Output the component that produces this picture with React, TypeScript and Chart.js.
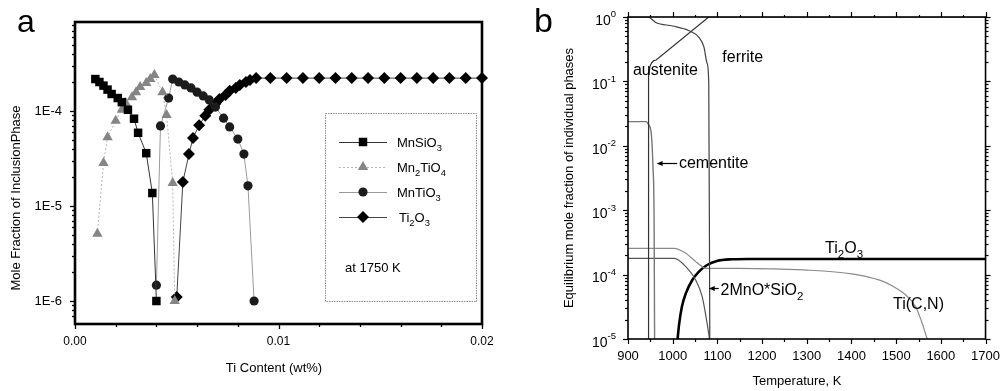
import React, { useEffect, useRef } from 'react';
import { Chart, registerables } from 'chart.js';

Chart.register(...registerables);

const FONT = '"Liberation Sans", Arial, Helvetica, sans-serif';
Chart.defaults.font.family = FONT;
Chart.defaults.color = '#000';

// ---------------- Panel a data ----------------
const aSeriesLabels = ['MnSiO_3', 'Mn_2TiO_4', 'MnTiO_3', 'Ti_2O_3'];
const mnsio3X = [0.0010, 0.0012, 0.0014, 0.0016, 0.0018, 0.0021, 0.0023, 0.0026, 0.0029, 0.0031, 0.0035, 0.0038, 0.0040];
const mnsio3Y = [2.17e-4, 2.02e-4, 1.85e-4, 1.68e-4, 1.51e-4, 1.37e-4, 1.24e-4, 1.03e-4, 8.3e-5, 5.9e-5, 3.6e-5, 1.37e-5, 1.0e-6];
const mn2tio4X = [0.0011, 0.0014, 0.0016, 0.0020, 0.0023, 0.0025, 0.0028, 0.0030, 0.0032, 0.0035, 0.0037, 0.0039, 0.0043, 0.0045, 0.0048, 0.0049];
const mn2tio4Y = [5.1e-6, 2.84e-5, 5.3e-5, 7.9e-5, 1.03e-4, 1.21e-4, 1.40e-4, 1.58e-4, 1.79e-4, 1.97e-4, 2.17e-4, 2.39e-4, 1.58e-4, 9.1e-5, 1.75e-5, 1.0e-6];
const mntio3X = [0.0040, 0.0042, 0.0046, 0.0048, 0.0051, 0.0054, 0.0057, 0.0060, 0.0063, 0.0066, 0.0069, 0.0073, 0.0076, 0.0080, 0.0083, 0.0085, 0.0088];
const mntio3Y = [1.47e-6, 6.96e-5, 1.37e-4, 2.17e-4, 2.02e-4, 1.88e-4, 1.75e-4, 1.58e-4, 1.44e-4, 1.31e-4, 1.10e-4, 8.4e-5, 6.8e-5, 5.07e-5, 3.52e-5, 1.63e-5, 1.0e-6];
const ti2o3X = [0.0050, 0.0053, 0.0056, 0.0058, 0.0061, 0.0064, 0.0066, 0.0069, 0.0071, 0.0074, 0.0076, 0.0079, 0.0081, 0.0084, 0.0086, 0.0089,
  0.0096, 0.0104, 0.0112, 0.0120, 0.0128, 0.0136, 0.0144, 0.0152, 0.0160, 0.0168, 0.0176, 0.0184, 0.0192, 0.0200];
const ti2o3Y = [1.1e-6, 1.79e-5, 3.52e-5, 5.2e-5, 7.1e-5, 8.9e-5, 1.03e-4, 1.19e-4, 1.34e-4, 1.47e-4, 1.63e-4, 1.75e-4, 1.88e-4, 2.02e-4, 2.12e-4, 2.22e-4,
  2.22e-4, 2.22e-4, 2.22e-4, 2.22e-4, 2.22e-4, 2.22e-4, 2.22e-4, 2.22e-4, 2.22e-4, 2.22e-4, 2.22e-4, 2.22e-4, 2.22e-4, 2.22e-4];
const aXRange = [0, 0.02];
const aYRange = [5.73e-7, 8.65e-4];
const aXTickValues = [0, 0.01, 0.02];
const aXTickLabels = ['0.00', '0.01', '0.02'];
const aYTickValues = [1e-6, 1e-5, 1e-4];
const aYTickLabels = ['1E-6', '1E-5', '1E-4'];
const aXTitle = 'Ti Content (wt%)';
const aYTitle = 'Mole Fraction of InclusionPhase';
const aNote = 'at 1750 K';

// ---------------- Panel b data ----------------
const ferriteT = [900, 944.7, 963, 1000, 1036.6, 1058.7, 1069.7, 1077, 1080.7, 1083];
const ferriteV = [1, 1, 0.815, 0.725, 0.613, 0.484, 0.346, 0.191, 0.094, 1e-5];
const austeniteT = [945, 945.5, 946.5, 949, 953, 958, 963, 1080.7, 1700];
const austeniteV = [1e-5, 0.05, 0.12, 0.17, 0.195, 0.21, 0.215, 1, 1];
const cementiteT = [900, 941, 945, 952, 955.8, 958.4, 959.5];
const cementiteV = [0.0237, 0.0237, 0.0218, 0.0156, 0.0048, 7e-4, 1e-5];
const mnsio2T = [900, 1003.6, 1029.4, 1051.4, 1066, 1077, 1082.3];
const mnsio2V = [1.79e-4, 1.79e-4, 1.33e-4, 8.24e-5, 4.54e-5, 1.75e-5, 1e-5];
const ticnT = [900, 1003.6, 1029.4, 1051.4, 1066, 1073.5, 1147, 1294, 1404, 1463, 1492, 1521.5, 1543.6, 1558.3, 1569.3];
const ticnV = [2.56e-4, 2.56e-4, 2.14e-4, 1.59e-4, 1.33e-4, 1.25e-4, 1.25e-4, 1.18e-4, 1.02e-4, 8.2e-5, 6.65e-5, 4.82e-5, 3.17e-5, 1.75e-5, 1e-5];
const bti2o3T = [1010.9, 1014.6, 1020.6, 1029.4, 1043.9, 1058.7, 1077, 1099, 1132, 1169, 1700];
const bti2o3V = [1e-5, 1.75e-5, 3.17e-5, 5.12e-5, 8.24e-5, 1.11e-4, 1.41e-4, 1.63e-4, 1.73e-4, 1.75e-4, 1.75e-4];
const bXRange = [900, 1700];
const bYRange = [1e-5, 1];
const bXTickValues = [900, 1000, 1100, 1200, 1300, 1400, 1500, 1600, 1700];
const bXTickLabels = ['900', '1000', '1100', '1200', '1300', '1400', '1500', '1600', '1700'];
const bYTickValues = [1, 1e-1, 1e-2, 1e-3, 1e-4, 1e-5];
const bYTickLabels = ['10^0', '10^{-1}', '10^{-2}', '10^{-3}', '10^{-4}', '10^{-5}'];
const bXTitle = 'Temperature, K';
const bYTitle = 'Equilibrium mole fraction of individual phases';

// annotation anchors in data units (T, value)
const bNotes = [
  { text: 'austenite', T: 911, v: 0.126 },
  { text: 'ferrite', T: 1111, v: 0.2 },
  { text: 'cementite', T: 1014, v: 4.5e-3, arrow: [1010, 964, 5.4e-3] },
  { text: 'Ti_2O_3', T: 1341, v: 2.16e-4 },
  { text: '2MnO*SiO_2', T: 1107, v: 4.8e-5, arrow: [1103, 1080.7, 6.2e-5] },
  { text: 'Ti(C,N)', T: 1493, v: 2.92e-5 },
];

const zip = (xs: number[], ys: number[]) => xs.map((x, i) => ({ x, y: ys[i] }));

// ---------------- helpers ----------------
function parseRich(text: string) {
  const parts: { t: string; k: string }[] = [];
  let i = 0;
  while (i < text.length) {
    const c = text[i];
    if (c === '_' || c === '^') {
      let s = '';
      if (text[i + 1] === '{') {
        const k = text.indexOf('}', i + 1);
        s = text.slice(i + 2, k);
        i = k + 1;
      } else {
        s = text[i + 1];
        i += 2;
      }
      parts.push({ t: s, k: c === '_' ? 'sub' : 'sup' });
    } else {
      let j = i;
      while (j < text.length && text[j] !== '_' && text[j] !== '^') j++;
      parts.push({ t: text.slice(i, j), k: 'n' });
      i = j;
    }
  }
  return parts;
}

function drawRich(ctx: CanvasRenderingContext2D, text: string, x: number, y: number, size: number, align = 'left', subScale = 0.72) {
  const parts = parseRich(text);
  const small = size * subScale;
  const fN = `${size}px ${FONT}`;
  const fS = `${small}px ${FONT}`;
  let total = 0;
  const widths = parts.map((p) => {
    ctx.font = p.k === 'n' ? fN : fS;
    const w = ctx.measureText(p.t).width;
    total += w;
    return w;
  });
  let cx = align === 'right' ? x - total : align === 'center' ? x - total / 2 : x;
  ctx.textAlign = 'left';
  parts.forEach((p, i) => {
    ctx.font = p.k === 'n' ? fN : fS;
    const dy = p.k === 'sub' ? size * 0.3 : p.k === 'sup' ? -size * 0.45 : 0;
    ctx.fillText(p.t, cx, y + dy);
    cx += widths[i];
  });
}

function drawMarker(ctx: CanvasRenderingContext2D, style: string, x: number, y: number, r: number, fill: string) {
  ctx.fillStyle = fill;
  ctx.beginPath();
  if (style === 'rect') {
    const s = r * Math.SQRT1_2;
    ctx.rect(x - s, y - s, 2 * s, 2 * s);
  } else if (style === 'triangle') {
    for (let k = 0; k < 3; k++) {
      const a = (k * 2 * Math.PI) / 3;
      const px = x + Math.sin(a) * r;
      const py = y - Math.cos(a) * r;
      if (k === 0) ctx.moveTo(px, py);
      else ctx.lineTo(px, py);
    }
    ctx.closePath();
  } else if (style === 'circle') {
    ctx.arc(x, y, r, 0, Math.PI * 2);
  } else {
    ctx.moveTo(x - r, y);
    ctx.lineTo(x, y - r);
    ctx.lineTo(x + r, y);
    ctx.lineTo(x, y + r);
    ctx.closePath();
  }
  ctx.fill();
}

const logClass = (v: number) => {
  const e = Math.floor(Math.log10(v) + 1e-9);
  const m = v / Math.pow(10, e);
  const r = Math.round(m);
  if (Math.abs(m - r) > 1e-6) return null;
  return r === 1 ? 'major' : 'minor';
};
const linClass = (step: number, majorStep: number) => (v: number) => {
  const k = v / majorStep;
  if (Math.abs(k - Math.round(k)) < 1e-6) return 'major';
  const s = v / step;
  if (Math.abs(s - Math.round(s)) < 1e-6) return 'minor';
  return null;
};

type TickCfg = Record<string, { major: number; minor: number; cls: (v: number) => string | null }>;

function makeFramePlugin(cfg: TickCfg, frameWidth: number, tickWidth: number) {
  return {
    id: 'frameTicks',
    afterDraw(chart: any) {
      const ctx = chart.ctx as CanvasRenderingContext2D;
      const ca = chart.chartArea;
      ctx.save();
      ctx.strokeStyle = '#000';
      ctx.lineWidth = tickWidth;
      for (const id of Object.keys(cfg)) {
        const s = chart.scales[id];
        if (!s) continue;
        const c = cfg[id];
        for (const t of s.ticks) {
          const kind = c.cls(t.value);
          if (!kind) continue;
          const len = kind === 'major' ? c.major : c.minor;
          const p = Math.round(s.getPixelForValue(t.value)) + 0.5;
          ctx.beginPath();
          if (s.position === 'bottom') { ctx.moveTo(p, ca.bottom); ctx.lineTo(p, ca.bottom + len); }
          else if (s.position === 'top') { ctx.moveTo(p, ca.top); ctx.lineTo(p, ca.top - len); }
          else if (s.position === 'left') { ctx.moveTo(ca.left, p); ctx.lineTo(ca.left - len, p); }
          else { ctx.moveTo(ca.right, p); ctx.lineTo(ca.right + len, p); }
          ctx.stroke();
        }
      }
      ctx.lineWidth = frameWidth;
      ctx.strokeRect(ca.left, ca.top, ca.right - ca.left, ca.bottom - ca.top);
      ctx.restore();
    },
  };
}

const matchLabel = (vals: number[], labels: string[], v: number) => {
  for (let i = 0; i < vals.length; i++) {
    const ref = vals[i];
    if (ref === 0 ? Math.abs(v) < 1e-12 : Math.abs(v / ref - 1) < 1e-6) return labels[i];
  }
  return '';
};

// ---------------- Panel a ----------------
function buildA(canvas: HTMLCanvasElement) {
  const legendPlugin = {
    id: 'legendA',
    afterDatasetsDraw(chart: any) {
      const ctx = chart.ctx as CanvasRenderingContext2D;
      ctx.save();
      // legend frame
      ctx.strokeStyle = '#8c8c8c';
      ctx.lineWidth = 1;
      ctx.setLineDash([1.5, 1]);
      ctx.strokeRect(325.5, 113.5, 151, 188);
      ctx.setLineDash([]);
      chart.data.datasets.forEach((ds: any, i: number) => {
        const y = 142 + i * 25;
        ctx.strokeStyle = ds.borderColor;
        ctx.lineWidth = 1;
        ctx.setLineDash(ds.borderDash || []);
        ctx.beginPath();
        ctx.moveTo(339, y + 0.5);
        ctx.lineTo(387, y + 0.5);
        ctx.stroke();
        ctx.setLineDash([]);
        drawMarker(ctx, ds.pointStyle, 363, y, ds.pointRadius, ds.pointBackgroundColor);
        ctx.fillStyle = '#000';
        ctx.textBaseline = 'alphabetic';
        drawRich(ctx, ds.label, i === 3 ? 399 : 397, y + 5, 13);
      });
      ctx.fillStyle = '#000';
      ctx.font = `13px ${FONT}`;
      ctx.textAlign = 'left';
      ctx.fillText(aNote, 345, 272);
      // titles and panel letter
      ctx.font = `13px ${FONT}`;
      ctx.textAlign = 'center';
      ctx.fillText(aXTitle, 274, 372);
      ctx.save();
      ctx.translate(20, 198);
      ctx.rotate(-Math.PI / 2);
      ctx.fillText(aYTitle, 0, 0);
      ctx.restore();
      ctx.font = `32px ${FONT}`;
      ctx.textAlign = 'left';
      ctx.fillText('a', 17, 32);
      ctx.restore();
    },
  };

  const frame = makeFramePlugin(
    {
      x: { major: 5, minor: 3, cls: linClass(0.002, 0.01) },
      y: { major: 5, minor: 3, cls: logClass },
    },
    2.6,
    1.3
  );

  return new Chart(canvas, {
    type: 'line',
    data: {
      datasets: [
        { label: aSeriesLabels[0], data: zip(mnsio3X, mnsio3Y), borderColor: '#333', borderWidth: 1, pointStyle: 'rect', pointRadius: 6, pointBackgroundColor: '#000', pointBorderColor: '#000', pointBorderWidth: 0, clip: false } as any,
        { label: aSeriesLabels[1], data: zip(mn2tio4X, mn2tio4Y), borderColor: '#b5b5b5', borderDash: [2, 2], borderWidth: 1, pointStyle: 'triangle', pointRadius: 6, pointBackgroundColor: '#858585', pointBorderColor: '#858585', pointBorderWidth: 0, clip: false },
        { label: aSeriesLabels[2], data: zip(mntio3X, mntio3Y), borderColor: '#9a9a9a', borderWidth: 1, pointStyle: 'circle', pointRadius: 4.6, pointBackgroundColor: '#1c1c1c', pointBorderColor: '#1c1c1c', pointBorderWidth: 0, clip: false },
        { label: aSeriesLabels[3], data: zip(ti2o3X, ti2o3Y), borderColor: '#444', borderWidth: 1, pointStyle: 'rectRot', pointRadius: 6, pointBackgroundColor: '#000', pointBorderColor: '#000', pointBorderWidth: 0, clip: false },
      ],
    },
    options: {
      animation: false,
      responsive: false,
      devicePixelRatio: 1,
      events: [],
      layout: { padding: { left: 0, right: 18, top: 22, bottom: 0 } },
      plugins: { legend: { display: false }, tooltip: { enabled: false } },
      scales: {
        x: {
          type: 'linear',
          min: aXRange[0],
          max: aXRange[1],
          ticks: {
            stepSize: 0.002,
            autoSkip: false,
            maxRotation: 0,
            padding: 5,
            font: { size: 12 },
            color: '#000',
            callback: (v: any) => matchLabel(aXTickValues, aXTickLabels, Number(v)),
          },
          grid: { display: false, drawTicks: true, tickLength: 5 },
          border: { display: false },
          afterFit: (s: any) => { s.height = 67; },
        },
        y: {
          type: 'logarithmic',
          min: aYRange[0],
          max: aYRange[1],
          ticks: {
            autoSkip: false,
            padding: 8,
            font: { size: 13 },
            color: '#000',
            callback: (v: any) => matchLabel(aYTickValues, aYTickLabels, Number(v)),
          },
          grid: { display: false, drawTicks: true, tickLength: 5 },
          border: { display: false },
          afterFit: (s: any) => { s.width = 75; },
        },
      },
    } as any,
    plugins: [legendPlugin, frame],
  });
}

// ---------------- Panel b ----------------
function buildB(canvas: HTMLCanvasElement) {
  const textPlugin = {
    id: 'textB',
    afterDatasetsDraw(chart: any) {
      const ctx = chart.ctx as CanvasRenderingContext2D;
      const xs = chart.scales.x;
      const ys = chart.scales.y;
      ctx.save();
      ctx.fillStyle = '#000';
      ctx.strokeStyle = '#000';
      ctx.textBaseline = 'alphabetic';
      for (const n of bNotes) {
        drawRich(ctx, n.text, xs.getPixelForValue(n.T), ys.getPixelForValue(n.v), 16);
        if (n.arrow) {
          const x0 = xs.getPixelForValue(n.arrow[0]);
          const x1 = xs.getPixelForValue(n.arrow[1]);
          const y = Math.round(ys.getPixelForValue(n.arrow[2])) + 0.5;
          ctx.lineWidth = 1.2;
          ctx.beginPath();
          ctx.moveTo(x0, y);
          ctx.lineTo(x1 + 4, y);
          ctx.stroke();
          ctx.beginPath();
          ctx.moveTo(x1, y);
          ctx.lineTo(x1 + 6, y - 2.5);
          ctx.lineTo(x1 + 6, y + 2.5);
          ctx.closePath();
          ctx.fill();
        }
      }
      // y tick labels with superscripts
      ctx.textBaseline = 'middle';
      bYTickValues.forEach((v, i) => {
        const y = ys.getPixelForValue(v);
        drawRich(ctx, bYTickLabels[i], 116, y + 4, 14, 'right', 0.68);
      });
      // titles
      ctx.font = `13px ${FONT}`;
      ctx.textAlign = 'center';
      ctx.textBaseline = 'alphabetic';
      ctx.fillText(bXTitle, 297, 385);
      ctx.save();
      ctx.translate(73, 178);
      ctx.rotate(-Math.PI / 2);
      ctx.fillText(bYTitle, 0, 0);
      ctx.restore();
      ctx.font = `34px ${FONT}`;
      ctx.textAlign = 'left';
      ctx.fillText('b', 34, 32);
      ctx.restore();
    },
  };

  const frame = makeFramePlugin(
    {
      x: { major: 5, minor: 3, cls: linClass(50, 100) },
      x2: { major: 5, minor: 2, cls: linClass(50, 100) },
      y: { major: 5, minor: 3, cls: logClass },
      y2: { major: 5, minor: 3, cls: logClass },
    },
    1.6,
    1.2
  );

  const line = (label: string, T: number[], V: number[], color: string, width: number, smooth: boolean) => ({
    label,
    data: zip(T, V),
    borderColor: color,
    borderWidth: width,
    pointRadius: 0,
    fill: false,
    xAxisID: 'x',
    yAxisID: 'y',
    tension: smooth ? 0.4 : 0,
    cubicInterpolationMode: smooth ? 'monotone' : 'default',
  });

  return new Chart(canvas, {
    type: 'line',
    data: {
      datasets: [
        line('ferrite', ferriteT, ferriteV, '#404040', 1.2, true),
        line('austenite', austeniteT, austeniteV, '#333', 1.2, false),
        line('cementite', cementiteT, cementiteV, '#777', 1.4, true),
        line('2MnO*SiO2', mnsio2T, mnsio2V, '#555', 1.2, true),
        line('Ti(C,N)', ticnT, ticnV, '#8a8a8a', 1.2, true),
        line('Ti2O3', bti2o3T, bti2o3V, '#000', 2.6, true),
      ] as any,
    },
    options: {
      animation: false,
      responsive: false,
      devicePixelRatio: 1,
      events: [],
      layout: { padding: 0 },
      plugins: { legend: { display: false }, tooltip: { enabled: false } },
      scales: {
        x: {
          type: 'linear',
          position: 'bottom',
          min: bXRange[0],
          max: bXRange[1],
          ticks: {
            stepSize: 50,
            autoSkip: false,
            maxRotation: 0,
            padding: 5,
            font: { size: 13 },
            color: '#000',
            callback: (v: any) => matchLabel(bXTickValues, bXTickLabels, Number(v)),
          },
          grid: { display: false, drawTicks: true, tickLength: 5 },
          border: { display: false },
          afterFit: (s: any) => { s.height = 52; },
        },
        x2: {
          type: 'linear',
          position: 'top',
          min: bXRange[0],
          max: bXRange[1],
          ticks: { stepSize: 50, display: false },
          grid: { display: false },
          border: { display: false },
          afterFit: (s: any) => { s.height = 17; },
        },
        y: {
          type: 'logarithmic',
          position: 'left',
          min: bYRange[0],
          max: bYRange[1],
          ticks: { display: false },
          grid: { display: false },
          border: { display: false },
          afterFit: (s: any) => { s.width = 128; },
        },
        y2: {
          type: 'logarithmic',
          position: 'right',
          min: bYRange[0],
          max: bYRange[1],
          ticks: { display: false },
          grid: { display: false },
          border: { display: false },
          afterFit: (s: any) => { s.width = 14; },
        },
      },
    } as any,
    plugins: [textPlugin, frame],
  });
}

export default function App() {
  const refA = useRef<HTMLCanvasElement>(null);
  const refB = useRef<HTMLCanvasElement>(null);
  useEffect(() => {
    document.body.style.margin = '0';
    const a = buildA(refA.current as HTMLCanvasElement);
    const b = buildB(refB.current as HTMLCanvasElement);
    return () => {
      a.destroy();
      b.destroy();
    };
  }, []);
  return (
    <div style={{ position: 'relative', width: 1005, height: 391, background: '#fff' }}>
      <canvas ref={refA} width={500} height={391} style={{ position: 'absolute', left: 0, top: 0, width: 500, height: 391 }} />
      <canvas ref={refB} width={505} height={391} style={{ position: 'absolute', left: 500, top: 0, width: 505, height: 391 }} />
    </div>
  );
}
